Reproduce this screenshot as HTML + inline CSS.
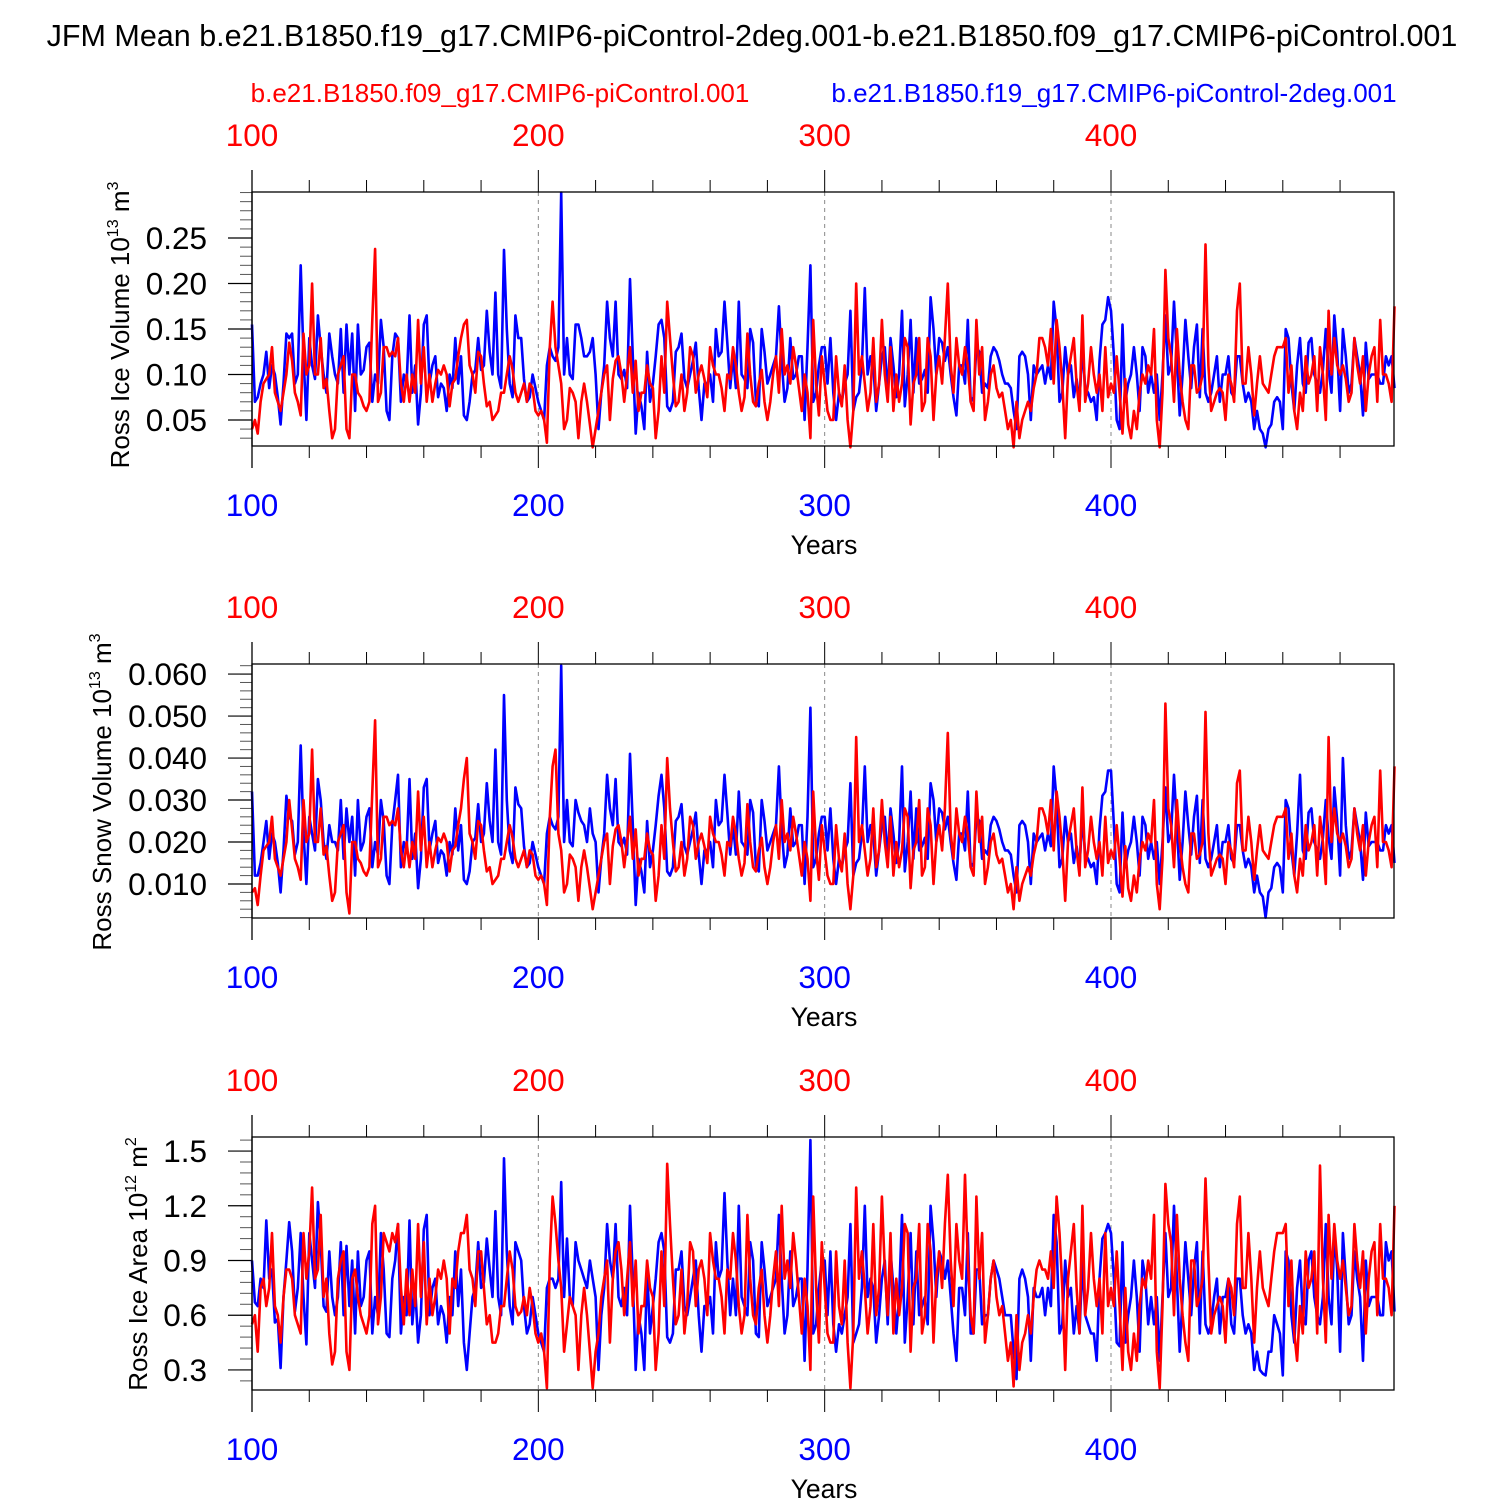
<!DOCTYPE html>
<html><head><meta charset="utf-8"><style>
body{margin:0;background:#fff;}
svg{display:block;font-family:"Liberation Sans",sans-serif;}
</style></head><body>
<svg id="chart" width="1500" height="1500" viewBox="0 0 1500 1500" xmlns="http://www.w3.org/2000/svg">
<rect width="1500" height="1500" fill="#fff"/>
<text x="752" y="46" font-size="30.5" text-anchor="middle">JFM Mean b.e21.B1850.f19_g17.CMIP6-piControl-2deg.001-b.e21.B1850.f09_g17.CMIP6-piControl.001</text>
<text x="500" y="102" font-size="26" fill="#f00" text-anchor="middle">b.e21.B1850.f09_g17.CMIP6-piControl.001</text>
<text x="1114" y="102" font-size="26" fill="#00f" text-anchor="middle">b.e21.B1850.f19_g17.CMIP6-piControl-2deg.001</text>
</svg>
<script>
const years0 = 100;
const xTicks = [100, 200, 300, 400];
const iceVolBlue = [.155,.07,.075,.09,.1,.125,.085,.11,.1,.075,.045,.09,.145,.14,.145,.09,.1,.22,.12,.05,
.14,.11,.095,.165,.13,.1,.08,.145,.12,.1,.09,.15,.08,.155,.1,.145,.06,.155,.1,.105,
.13,.135,.07,.1,.09,.16,.13,.06,.05,.12,.145,.14,.07,.1,.09,.165,.08,.11,.045,.08,
.155,.165,.09,.11,.12,.075,.09,.085,.06,.1,.085,.14,.09,.12,.055,.05,.07,.1,.105,.14,
.105,.11,.17,.125,.1,.19,.1,.085,.237,.15,.09,.075,.165,.14,.14,.095,.07,.075,.1,.085,
.07,.06,.05,.11,.13,.12,.115,.13,.3,.1,.14,.1,.095,.155,.155,.14,.12,.12,.125,.14,
.1,.04,.08,.11,.18,.14,.12,.18,.1,.095,.105,.085,.205,.12,.035,.08,.065,.04,.125,.07,
.09,.12,.155,.16,.14,.065,.06,.07,.125,.13,.145,.095,.085,.1,.115,.135,.085,.05,.09,.09,
.1,.07,.15,.12,.125,.18,.135,.085,.12,.085,.18,.1,.095,.085,.15,.135,.07,.065,.15,.125,
.09,.1,.11,.12,.175,.115,.07,.085,.14,.095,.1,.12,.12,.05,.13,.22,.07,.08,.11,.13,
.13,.09,.14,.08,.05,.08,.07,.09,.1,.17,.06,.075,.08,.11,.195,.1,.12,.11,.06,.09,
.12,.13,.08,.14,.11,.075,.1,.17,.065,.1,.16,.08,.14,.09,.095,.105,.08,.185,.15,.1,
.14,.135,.115,.13,.1,.075,.055,.11,.11,.09,.16,.07,.075,.13,.125,.08,.09,.085,.12,.13,
.125,.115,.1,.09,.09,.085,.06,.04,.12,.125,.12,.1,.05,.11,.1,.105,.11,.09,.11,.095,
.18,.15,.07,.08,.13,.1,.11,.075,.095,.07,.13,.085,.08,.07,.075,.05,.115,.155,.16,.185,
.17,.12,.05,.04,.155,.07,.09,.1,.13,.1,.06,.13,.12,.08,.1,.08,.1,.05,.1,.165,
.1,.11,.18,.12,.055,.1,.16,.12,.085,.13,.155,.075,.15,.08,.07,.08,.1,.12,.07,.1,
.1,.12,.08,.075,.12,.12,.09,.07,.08,.07,.04,.06,.04,.035,.02,.04,.045,.07,.075,.07,
.04,.15,.14,.09,.06,.11,.14,.09,.08,.135,.14,.1,.09,.08,.105,.15,.105,.08,.165,.125,
.06,.15,.12,.08,.09,.14,.12,.1,.055,.135,.095,.1,.1,.1,.09,.09,.12,.11,.12,.085];
const iceVolRed = [.04,.05,.035,.07,.09,.095,.1,.13,.08,.07,.06,.08,.1,.135,.115,.08,.07,.055,.145,.1,
.11,.2,.1,.1,.14,.085,.095,.06,.03,.04,.1,.11,.12,.04,.03,.1,.1,.08,.075,.065,
.06,.07,.16,.238,.07,.08,.13,.13,.12,.125,.12,.14,.09,.07,.1,.07,.1,.08,.16,.09,
.13,.07,.1,.07,.09,.105,.1,.11,.1,.065,.09,.095,.12,.14,.155,.16,.11,.1,.08,.125,
.12,.09,.065,.07,.05,.055,.06,.08,.08,.1,.12,.105,.08,.07,.08,.09,.07,.09,.085,.06,
.055,.06,.05,.025,.13,.18,.13,.11,.09,.04,.05,.085,.08,.07,.03,.07,.09,.07,.045,.02,
.04,.06,.08,.1,.11,.05,.095,.115,.12,.1,.07,.1,.13,.08,.115,.06,.08,.08,.11,.09,
.085,.03,.06,.12,.08,.18,.14,.1,.065,.07,.1,.06,.08,.13,.12,.08,.1,.11,.095,.075,
.13,.11,.1,.1,.085,.06,.1,.095,.13,.11,.08,.06,.075,.145,.1,.07,.065,.09,.105,.07,
.05,.07,.1,.12,.08,.15,.1,.11,.09,.13,.11,.085,.06,.1,.08,.03,.16,.09,.055,.12,
.09,.06,.05,.05,.12,.08,.065,.11,.05,.02,.06,.2,.1,.12,.09,.06,.08,.14,.07,.09,
.16,.1,.07,.13,.06,.1,.07,.09,.14,.13,.045,.09,.1,.14,.06,.07,.14,.12,.05,.1,
.12,.09,.14,.2,.11,.08,.14,.11,.1,.13,.11,.07,.06,.16,.1,.13,.05,.07,.1,.11,
.085,.075,.08,.06,.04,.05,.02,.07,.03,.05,.06,.07,.06,.085,.1,.14,.14,.13,.11,.15,
.09,.16,.13,.09,.03,.1,.12,.14,.09,.06,.165,.07,.09,.13,.1,.08,.1,.06,.13,.075,
.09,.08,.12,.08,.035,.095,.045,.03,.06,.04,.08,.1,.09,.11,.1,.15,.05,.02,.08,.215,
.14,.12,.07,.15,.1,.07,.05,.04,.11,.11,.08,.085,.1,.243,.11,.06,.07,.08,.085,.08,
.05,.1,.09,.07,.17,.2,.09,.09,.13,.1,.055,.09,.12,.09,.085,.08,.1,.12,.13,.13,
.13,.14,.08,.11,.06,.04,.08,.06,.12,.09,.1,.12,.06,.13,.1,.05,.17,.1,.14,.11,
.1,.11,.095,.07,.08,.14,.11,.09,.12,.06,.1,.12,.13,.07,.16,.1,.1,.09,.07,.175];
const snowVolBlue = [.032,.012,.012,.015,.02,.025,.016,.022,.02,.015,.008,.018,.031,.026,.025,.017,.02,.043,.022,.01,
.026,.022,.018,.035,.03,.02,.016,.024,.02,.02,.018,.03,.016,.028,.02,.026,.012,.03,.018,.02,
.026,.028,.014,.02,.017,.03,.025,.012,.01,.024,.03,.036,.014,.02,.018,.035,.016,.022,.009,.016,
.033,.035,.018,.022,.025,.015,.018,.017,.012,.02,.017,.028,.018,.024,.011,.01,.013,.02,.021,.029,
.02,.022,.034,.025,.02,.042,.02,.017,.055,.03,.018,.015,.033,.029,.028,.019,.014,.015,.02,.017,
.014,.012,.01,.022,.026,.024,.023,.026,.062,.02,.03,.02,.019,.03,.027,.025,.024,.02,.028,.022,
.02,.008,.016,.022,.036,.028,.024,.035,.02,.019,.021,.017,.041,.024,.005,.016,.013,.008,.025,.014,
.018,.024,.031,.036,.028,.013,.012,.014,.025,.026,.029,.019,.017,.02,.023,.027,.017,.01,.018,.018,
.02,.014,.03,.024,.025,.036,.027,.017,.024,.017,.032,.02,.019,.017,.03,.027,.014,.013,.03,.025,
.018,.02,.022,.024,.038,.023,.014,.017,.028,.019,.02,.024,.024,.01,.026,.052,.014,.016,.022,.026,
.026,.018,.028,.016,.01,.016,.014,.018,.02,.034,.012,.015,.016,.022,.038,.02,.024,.022,.012,.018,
.024,.026,.016,.028,.022,.015,.02,.038,.013,.02,.032,.016,.028,.018,.019,.021,.016,.034,.03,.02,
.028,.027,.023,.026,.02,.015,.011,.022,.022,.018,.032,.014,.015,.026,.025,.016,.018,.017,.024,.026,
.025,.023,.02,.018,.018,.017,.012,.008,.024,.025,.024,.02,.01,.022,.02,.021,.022,.018,.022,.019,
.038,.03,.014,.016,.026,.02,.022,.015,.019,.014,.026,.017,.016,.014,.015,.01,.023,.031,.032,.037,
.037,.024,.01,.008,.027,.014,.018,.02,.026,.02,.012,.026,.024,.016,.02,.016,.02,.01,.02,.033,
.02,.022,.036,.024,.011,.02,.032,.024,.017,.026,.031,.015,.03,.016,.014,.016,.02,.024,.014,.02,
.02,.024,.016,.015,.024,.024,.018,.014,.016,.014,.008,.012,.008,.007,.002,.008,.009,.014,.015,.014,
.008,.03,.028,.018,.012,.022,.036,.018,.016,.027,.028,.02,.018,.016,.021,.03,.021,.016,.033,.025,
.012,.04,.024,.016,.018,.028,.024,.02,.011,.027,.019,.02,.02,.02,.018,.018,.024,.022,.024,.015];
const snowVolRed = [.008,.009,.005,.012,.018,.019,.02,.026,.016,.014,.012,.016,.02,.03,.023,.016,.014,.011,.03,.02,
.022,.042,.02,.02,.028,.017,.019,.012,.006,.008,.02,.022,.024,.008,.003,.02,.02,.016,.015,.013,
.012,.014,.032,.049,.014,.016,.026,.026,.024,.025,.024,.028,.018,.014,.02,.014,.02,.016,.032,.018,
.026,.014,.02,.014,.018,.021,.02,.022,.02,.013,.018,.019,.024,.028,.035,.04,.022,.02,.016,.025,
.024,.018,.013,.014,.01,.011,.012,.016,.016,.02,.024,.021,.016,.014,.016,.018,.014,.018,.017,.012,
.011,.012,.01,.005,.026,.038,.042,.022,.018,.008,.01,.017,.016,.014,.006,.014,.018,.014,.009,.004,
.008,.012,.016,.02,.022,.01,.019,.023,.024,.02,.014,.02,.026,.016,.023,.012,.016,.016,.022,.018,
.017,.006,.012,.024,.016,.04,.028,.02,.013,.014,.02,.012,.016,.026,.024,.016,.02,.022,.019,.015,
.026,.022,.02,.02,.017,.012,.02,.019,.026,.022,.016,.012,.015,.029,.02,.014,.013,.018,.021,.014,
.01,.014,.02,.024,.016,.03,.02,.022,.018,.026,.022,.017,.012,.02,.016,.006,.032,.018,.011,.024,
.018,.012,.01,.01,.024,.016,.013,.022,.01,.004,.012,.045,.02,.024,.018,.012,.016,.028,.014,.018,
.03,.02,.014,.026,.012,.02,.014,.018,.028,.026,.009,.018,.02,.03,.012,.014,.028,.024,.01,.02,
.024,.018,.028,.046,.022,.016,.028,.022,.02,.026,.022,.014,.012,.032,.02,.026,.01,.014,.02,.022,
.017,.015,.016,.012,.008,.01,.004,.014,.006,.01,.012,.014,.012,.017,.02,.028,.028,.026,.022,.03,
.018,.032,.026,.018,.006,.02,.024,.028,.018,.012,.033,.014,.018,.026,.02,.016,.02,.012,.026,.015,
.018,.016,.024,.016,.007,.019,.009,.006,.012,.008,.016,.02,.018,.022,.02,.03,.01,.004,.016,.053,
.028,.024,.014,.03,.02,.014,.01,.008,.022,.022,.016,.017,.02,.051,.022,.012,.014,.016,.017,.016,
.01,.02,.018,.014,.034,.037,.018,.018,.026,.02,.011,.018,.024,.018,.017,.016,.02,.024,.026,.026,
.026,.028,.016,.022,.012,.008,.016,.012,.024,.018,.02,.024,.012,.026,.02,.01,.045,.02,.028,.022,
.02,.022,.019,.014,.016,.028,.022,.018,.024,.012,.02,.024,.026,.014,.037,.02,.02,.018,.014,.038];
const iceAreaBlue = [.9,.67,.65,.8,.75,1.12,.8,.85,.56,.58,.31,.7,.9,1.11,.95,.62,.75,1.05,.7,.44,
1.05,.9,.75,1.22,1.0,.65,.62,.95,.7,.6,.7,1.0,.6,.98,.65,.9,.5,.95,.65,.7,
.9,.95,.5,.7,.6,1.05,.85,.5,.48,.8,.9,1.1,.5,.7,.6,1.12,.55,.75,.45,.6,
1.07,1.15,.6,.75,.8,.55,.65,.6,.45,.7,.6,.95,.65,.85,.45,.3,.5,.7,.75,1.0,
.75,.78,1.02,.85,.7,1.17,.7,.6,1.46,.95,.65,.55,1.0,.95,.9,.65,.5,.55,.7,.6,
.5,.45,.4,.75,.8,.8,.75,.8,1.33,.7,1.02,.7,.65,1.0,.9,.85,.8,.75,.9,.8,
.7,.3,.6,.75,1.1,.9,.8,1.1,.7,.65,.75,.6,1.2,.8,.3,.6,.5,.3,.85,.5,
.65,.8,1.0,1.05,.95,.48,.45,.5,.85,.85,.95,.65,.6,.7,.8,.9,.6,.4,.65,.65,
.7,.5,1.0,.8,.85,1.27,.9,.6,.8,.6,1.2,.7,.65,.6,1.0,.9,.5,.48,1.0,.85,
.65,.7,.75,.8,1.15,.8,.5,.6,.95,.65,.7,.8,.8,.35,.85,1.56,.5,.55,.75,.9,
.9,.6,.95,.55,.4,.55,.5,.6,.7,1.1,.45,.5,.55,.75,1.2,.7,.8,.75,.45,.6,
.8,.9,.55,.95,.75,.5,.7,1.15,.45,.7,1.05,.55,.95,.6,.65,.7,.55,1.2,1.0,.7,
.95,.9,.8,.9,.7,.5,.35,.75,.75,.6,1.05,.5,.5,.85,.85,.55,.6,.6,.8,.9,
.85,.8,.7,.6,.6,.6,.4,.25,.8,.85,.8,.7,.35,.75,.7,.7,.75,.6,.75,.65,
1.15,1.0,.5,.55,.9,.7,.75,.5,.65,.5,.9,.6,.55,.5,.5,.35,.8,1.02,1.05,1.1,
1.05,.8,.45,.43,1.0,.45,.6,.7,.9,.7,.4,.9,.8,.55,.7,.55,.7,.35,.7,1.05,
.7,.75,1.2,.8,.4,.7,1.0,.8,.6,.85,1.0,.5,.95,.55,.5,.55,.7,.8,.5,.7,
.7,.8,.55,.5,.8,.8,.6,.5,.55,.5,.3,.4,.3,.28,.27,.4,.4,.6,.55,.5,
.27,.95,.9,.6,.45,.75,.9,.6,.55,.9,.95,.7,.6,.55,.7,1.1,.7,.55,1.05,.85,
.4,1.05,.8,.55,.6,.95,.8,.7,.35,.9,.65,.7,.7,.7,.6,.6,1.0,.9,.95,.62];
const iceAreaRed = [.55,.6,.4,.75,.8,.65,.75,1.05,.65,.6,.45,.7,.85,.85,.8,.6,.55,.5,1.05,.8,
.95,1.3,.8,.85,1.15,.7,.8,.5,.33,.4,.8,.9,.95,.4,.3,.8,.85,.7,.6,.55,
.5,.6,1.1,1.2,.55,.7,1.05,1.0,.95,1.05,1.0,1.1,.75,.55,.85,.6,.85,.65,1.1,.7,
1.0,.55,.8,.6,.7,.85,.8,.9,.8,.5,.8,.75,.95,1.05,1.05,1.15,.85,.8,.65,.95,
.95,.75,.55,.6,.45,.45,.5,.65,.65,.8,.95,.85,.65,.6,.62,.7,.6,.75,.65,.5,
.45,.5,.4,.2,.9,1.25,1.1,.9,.75,.4,.55,.7,.65,.6,.3,.6,.75,.6,.4,.2,
.4,.5,.7,.8,.9,.45,.8,.95,1.0,.85,.6,.8,1.0,.65,.9,.5,.65,.65,.9,.75,
.7,.3,.5,.95,.65,1.43,1.1,.8,.55,.6,.85,.5,.65,1.0,.95,.65,.85,.9,.8,.6,
1.05,.9,.8,.8,.7,.5,.85,.8,1.05,.9,.65,.5,.6,1.15,.8,.6,.55,.75,.85,.6,
.45,.6,.8,.95,.65,1.2,.8,.9,.75,1.05,.9,.7,.5,.8,.65,.3,1.25,.75,.45,1.0,
.75,.5,.45,.45,.95,.65,.55,.9,.45,.2,.5,1.3,.8,.95,.75,.5,.65,1.1,.6,.75,
1.25,.85,.6,1.05,.5,.8,.6,.75,1.1,1.05,.4,.75,.8,1.1,.5,.6,1.1,.95,.45,.8,
.95,.75,1.1,1.37,.9,.65,1.1,.9,.8,1.37,.9,.6,.5,1.25,.8,1.05,.45,.6,.8,.9,
.7,.6,.65,.5,.35,.45,.21,.6,.3,.45,.5,.6,.5,.7,.85,.9,.85,.85,.8,.95,
.75,1.25,1.05,.75,.3,.8,.95,1.1,.75,.5,1.2,.6,.75,1.05,.8,.65,.8,.5,1.05,.65,
.75,.65,.95,.65,.3,.75,.4,.3,.5,.35,.65,.8,.75,.9,.8,1.15,.4,.2,.65,1.32,
1.1,1.0,.6,1.15,.8,.6,.45,.35,.9,.9,.65,.7,.8,1.35,.9,.5,.6,.65,.7,.65,
.45,.8,.75,.6,1.1,1.25,.75,.75,1.05,.8,.45,.75,.95,.75,.7,.65,.8,.95,1.05,1.05,
1.05,1.1,.65,.9,.5,.35,.65,.5,.95,.75,.8,.95,.5,1.42,.8,.45,1.15,.8,1.1,.9,
.8,.9,.75,.6,.65,1.1,.9,.75,.95,.5,.8,.95,1.0,.6,1.1,.8,.8,.75,.6,1.2];
const ticks1 = [0.05, 0.10, 0.15, 0.20, 0.25];
const ticks1Labels = ["0.05","0.10","0.15","0.20","0.25"];
const ticks2 = [0.01, 0.02, 0.03, 0.04, 0.05, 0.06];
const ticks2Labels = ["0.010","0.020","0.030","0.040","0.050","0.060"];
const ticks3 = [0.3, 0.6, 0.9, 1.2, 1.5];
const ticks3Labels = ["0.3","0.6","0.9","1.2","1.5"];

const NS = "http://www.w3.org/2000/svg";
const svg = document.getElementById('chart');
const X0 = 252, X1 = 1394;
const xScale = yr => 252 + (yr - 100) * (1111 - 252) / 300;
function mk(tag, attrs, parent) {
  const e = document.createElementNS(NS, tag);
  for (const k in attrs) e.setAttribute(k, attrs[k]);
  (parent || svg).appendChild(e);
  return e;
}
const panels = [
  {name:'ice-volume', top:192, bot:446, ymin:0.0214, ymax:0.3006, minor:0.01, ticks:ticks1, labels:ticks1Labels, blue:iceVolBlue, red:iceVolRed, title:'Ross Ice Volume 10', sup:'13', unit:' m', usup:'3', tx:129, ty:325},
  {name:'snow-volume', top:664, bot:918, ymin:0.0019, ymax:0.0624, minor:0.002, ticks:ticks2, labels:ticks2Labels, blue:snowVolBlue, red:snowVolRed, title:'Ross Snow Volume 10', sup:'13', unit:' m', usup:'3', tx:111, ty:792},
  {name:'ice-area', top:1137, bot:1390, ymin:0.19, ymax:1.577, minor:0.06, ticks:ticks3, labels:ticks3Labels, blue:iceAreaBlue, red:iceAreaRed, title:'Ross Ice Area 10', sup:'12', unit:' m', usup:'2', tx:147, ty:1264}
];
panels.forEach((p, pi) => {
  const g = mk('g', {});
  
  
  const yS = v => p.bot - (v - p.ymin) / (p.ymax - p.ymin) * (p.bot - p.top);
  xTicks.slice(1).forEach(t => {
    const l = mk('line', {x1:xScale(t), x2:xScale(t), y1:p.top, y2:p.bot, stroke:'#888', 'stroke-width':1, 'stroke-dasharray':'4,4'}, g);
    
    
  });
  for (let yr = 100; yr <= 499; yr += 20) {
    const major = yr % 100 === 0;
    const len = major ? 22 : 12;
    mk('line', {x1:xScale(yr), x2:xScale(yr), y1:p.top, y2:p.top - len, stroke:'#000', 'stroke-width':1}, g);
    mk('line', {x1:xScale(yr), x2:xScale(yr), y1:p.bot, y2:p.bot + len, stroke:'#000', 'stroke-width':1}, g);
  }
  for (let v = Math.ceil(p.ymin / p.minor) * p.minor; v <= p.ymax; v += p.minor) {
    mk('line', {x1:X0, x2:X0 - 12, y1:yS(v), y2:yS(v), stroke:'#555', 'stroke-width':1}, g);
  }
  p.ticks.forEach((v, i) => {
    mk('line', {x1:X0, x2:X0 - 24, y1:yS(v), y2:yS(v), stroke:'#000', 'stroke-width':1.2}, g);
    const t = mk('text', {x:207, y:yS(v) + 11, 'font-size':31.5, 'text-anchor':'end'}, g);
    t.textContent = p.labels[i];
    
    
  });
  xTicks.forEach(v => {
    const t1 = mk('text', {x:xScale(v), y:p.top - 46, 'font-size':31.5, fill:'#f00', 'text-anchor':'middle'}, g);
    t1.textContent = v;
    
    
    const t2 = mk('text', {x:xScale(v), y:p.bot + 70, 'font-size':31.5, fill:'#00f', 'text-anchor':'middle'}, g);
    t2.textContent = v;
    
    
  });
  const xt = mk('text', {x:824, y:p.bot + 108, 'font-size':26.5, 'text-anchor':'middle'}, g);
  xt.textContent = 'Years';
  
  
  const yt = mk('text', {x:0, y:0, 'font-size':26, 'text-anchor':'middle', transform:`translate(${p.tx},${p.ty}) rotate(-90)`}, g);
  
  
  yt.innerHTML = `${p.title}<tspan font-size="16" dy="-11">${p.sup}</tspan><tspan dy="11">${p.unit}</tspan><tspan font-size="16" dy="-11">${p.usup}</tspan>`;
  [['blue', p.blue, '#00f'], ['red', p.red, '#f00']].forEach(([nm, arr, col]) => {
    const pts = arr.map((v, i) => xScale(years0 + i).toFixed(1) + ',' + yS(v).toFixed(1)).join(' ');
    const pl = mk('polyline', {points:pts, fill:'none', stroke:col, 'stroke-width':2.6, 'stroke-linejoin':'round'}, g);
    
    
  });
  const fr = mk('rect', {x:X0, y:p.top, width:X1 - X0, height:p.bot - p.top, fill:'none', stroke:'#000', 'stroke-width':1.3}, g);
  
  
  mk('line', {x1:X0, x2:X0, y1:p.top - 22, y2:p.bot + 22, stroke:'#000', 'stroke-width':1.3}, g);
});
</script>
</body></html>
